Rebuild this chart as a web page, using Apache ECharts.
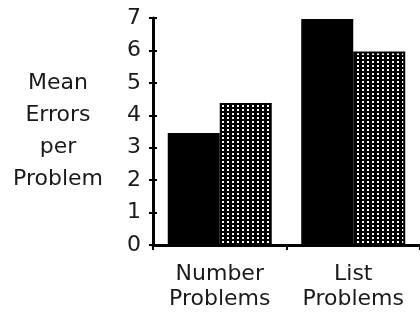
<!DOCTYPE html>
<html>
<head>
<meta charset="utf-8">
<script src="https://cdn.jsdelivr.net/npm/echarts@6/dist/echarts.min.js"></script>
<style>
  html, body { margin: 0; padding: 0; background: #fff; }
  #chart { width: 420px; height: 320px; }
</style>
</head>
<body>
<div id="chart"></div>
<script>
const categories = ['Number\nProblems', 'List\nProblems'];
const solidValues = [3.45, 6.97];
const dottedValues = [4.38, 5.97];
const yTicks = { min: 0, max: 7, interval: 1 };
const yName = 'Mean\nErrors\nper\nProblem';

// white dots on black, like the screened bars
function dotPattern() {
  const c = document.createElement('canvas');
  c.width = 5;
  c.height = 4;
  const ctx = c.getContext('2d');
  ctx.fillStyle = '#000';
  ctx.fillRect(0, 0, 5, 4);
  ctx.fillStyle = '#fff';
  ctx.fillRect(2, 1, 2, 2);
  return c;
}

const font = 'DejaVu Sans';
const ink = '#1a1a1a';
const chart = echarts.init(document.getElementById('chart'));

chart.setOption({
  animation: false,
  grid: { left: 153, right: 0, top: 18, bottom: 75 },
  xAxis: {
    type: 'category',
    data: categories,
    axisLine: { lineStyle: { color: '#000', width: 3 } },
    axisTick: { show: true, length: 5, lineStyle: { color: '#000', width: 2 } },
    axisLabel: { color: ink, fontFamily: font, fontSize: 22, lineHeight: 25, margin: 17 },
  },
  yAxis: [
    {
      type: 'value',
      ...yTicks,
      name: yName,
      nameLocation: 'middle',
      nameRotate: 0,
      nameGap: 95,
      nameTextStyle: { color: ink, fontFamily: font, fontSize: 22, lineHeight: 32, align: 'center', verticalAlign: 'middle' },
      axisLine: { show: true, lineStyle: { color: '#000', width: 3 } },
      axisTick: { show: true, length: 4, lineStyle: { color: '#000', width: 2 } },
      axisLabel: { color: ink, fontFamily: font, fontSize: 22, margin: 12 },
      splitLine: { show: false },
    },
    {
      type: 'value',
      ...yTicks,
      position: 'left',
      axisLine: { show: false },
      axisTick: { show: true, inside: true, length: 4, lineStyle: { color: '#000', width: 2 } },
      axisLabel: { show: false },
      splitLine: { show: false },
    },
  ],
  series: [
    {
      name: 'solid',
      type: 'bar',
      data: solidValues,
      barWidth: 52,
      barGap: '0%',
      itemStyle: { color: '#000' },
    },
    {
      name: 'dotted',
      type: 'bar',
      data: dottedValues,
      barWidth: 52,
      itemStyle: { color: { image: dotPattern(), repeat: 'repeat' }, borderColor: '#000', borderWidth: 2 },
    },
  ],
});
</script>
</body>
</html>
